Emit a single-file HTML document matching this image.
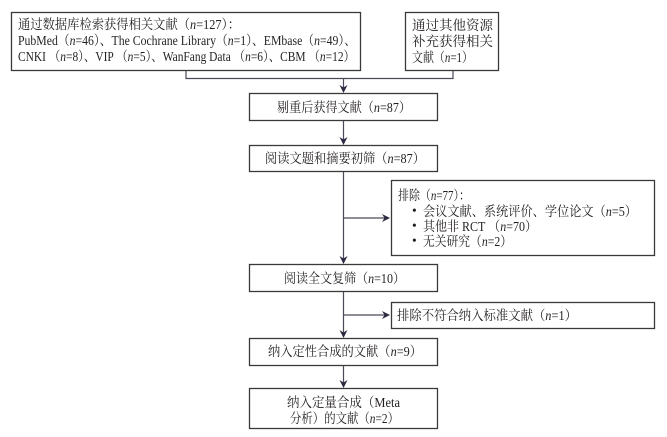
<!DOCTYPE html>
<html><head><meta charset="utf-8">
<style>
html,body{margin:0;padding:0;background:#fff;}
body{width:667px;height:437px;overflow:hidden;}
svg{display:block;}
text{font-family:"Liberation Serif","Noto Serif CJK SC",serif;font-size:13.5px;fill:#231f20;}
.i{font-style:italic;}
</style></head>
<body>
<svg width="667" height="437" viewBox="0 0 667 437" xmlns="http://www.w3.org/2000/svg">
<g fill="none" stroke="#3a3a3a" stroke-width="1.3">
<rect x="11.5" y="12.5" width="349" height="58"/>
<rect x="405.5" y="12.5" width="93" height="58"/>
<rect x="249.5" y="93.5" width="188" height="27"/>
<rect x="249.5" y="145.5" width="188" height="26"/>
<rect x="391.5" y="180.5" width="263" height="75"/>
<rect x="249.5" y="264.5" width="188" height="27"/>
<rect x="391.5" y="302.5" width="263" height="26"/>
<rect x="249.5" y="338.5" width="188" height="27"/>
<rect x="249.5" y="388.5" width="188" height="40"/>
</g>
<g fill="none" stroke="#4a4a58" stroke-width="1.2">
<polyline points="186,71 186,78.5 453,78.5 453,71"/>
<line x1="343.5" y1="78.5" x2="343.5" y2="88"/>
<line x1="343.5" y1="121" x2="343.5" y2="140"/>
<line x1="343.5" y1="172" x2="343.5" y2="259"/>
<line x1="343.5" y1="218" x2="386" y2="218"/>
<line x1="343.5" y1="292" x2="343.5" y2="333"/>
<line x1="343.5" y1="315" x2="386" y2="315"/>
<line x1="343.5" y1="366" x2="343.5" y2="383"/>
</g>
<g fill="#2a2a40">
<polygon points="343.5,93 339.5,85 343.5,87.5 347.5,85"/>
<polygon points="343.5,145 339.5,137 343.5,139.5 347.5,137"/>
<polygon points="343.5,264 339.5,256 343.5,258.5 347.5,256"/>
<polygon points="343.5,338 339.5,330 343.5,332.5 347.5,330"/>
<polygon points="343.5,388 339.5,380 343.5,382.5 347.5,380"/>
<polygon points="390,218 382,214 384.5,218 382,222"/>
<polygon points="390,315 382,311 384.5,315 382,319"/>
</g>

<text x="18" y="29" textLength="222" lengthAdjust="spacingAndGlyphs">通过数据库检索获得相关文献（<tspan class="i">n</tspan>=127）：</text>
<text x="18" y="45" textLength="338" lengthAdjust="spacingAndGlyphs">PubMed（<tspan class="i">n</tspan>=46）、The Cochrane Library（<tspan class="i">n</tspan>=1）、EMbase（<tspan class="i">n</tspan>=49）、</text>
<text x="18" y="61" textLength="337" lengthAdjust="spacingAndGlyphs">CNKI （<tspan class="i">n</tspan>=8）、VIP （<tspan class="i">n</tspan>=5）、WanFang Data （<tspan class="i">n</tspan>=6）、CBM （<tspan class="i">n</tspan>=12）</text>

<text x="412" y="30" textLength="81" lengthAdjust="spacingAndGlyphs">通过其他资源</text>
<text x="412" y="46" textLength="81" lengthAdjust="spacingAndGlyphs">补充获得相关</text>
<text x="412" y="62" textLength="61" lengthAdjust="spacingAndGlyphs">文献（<tspan class="i">n</tspan>=1）</text>

<text x="277" y="112" textLength="134" lengthAdjust="spacingAndGlyphs">剔重后获得文献（<tspan class="i">n</tspan>=87）</text>
<text x="265" y="163" textLength="160" lengthAdjust="spacingAndGlyphs">阅读文题和摘要初筛（<tspan class="i">n</tspan>=87）</text>

<text x="398" y="200" textLength="72" lengthAdjust="spacingAndGlyphs">排除（<tspan class="i">n</tspan>=77）：</text>
<text x="412" y="215">•</text>
<text x="423" y="216" textLength="214" lengthAdjust="spacingAndGlyphs">会议文献、系统评价、学位论文（<tspan class="i">n</tspan>=5）</text>
<text x="412" y="230">•</text>
<text x="423" y="231" textLength="114" lengthAdjust="spacingAndGlyphs">其他非 RCT （<tspan class="i">n</tspan>=70）</text>
<text x="412" y="245">•</text>
<text x="423" y="246" textLength="89" lengthAdjust="spacingAndGlyphs">无关研究（<tspan class="i">n</tspan>=2）</text>

<text x="284" y="283" textLength="121" lengthAdjust="spacingAndGlyphs">阅读全文复筛（<tspan class="i">n</tspan>=10）</text>
<text x="397" y="320" textLength="180" lengthAdjust="spacingAndGlyphs">排除不符合纳入标准文献（<tspan class="i">n</tspan>=1）</text>
<text x="268" y="356" textLength="154" lengthAdjust="spacingAndGlyphs">纳入定性合成的文献（<tspan class="i">n</tspan>=9）</text>
<text x="287" y="407" textLength="113" lengthAdjust="spacingAndGlyphs">纳入定量合成（Meta</text>
<text x="290" y="423" textLength="109" lengthAdjust="spacingAndGlyphs">分析）的文献（<tspan class="i">n</tspan>=2）</text>
</svg>
</body></html>
